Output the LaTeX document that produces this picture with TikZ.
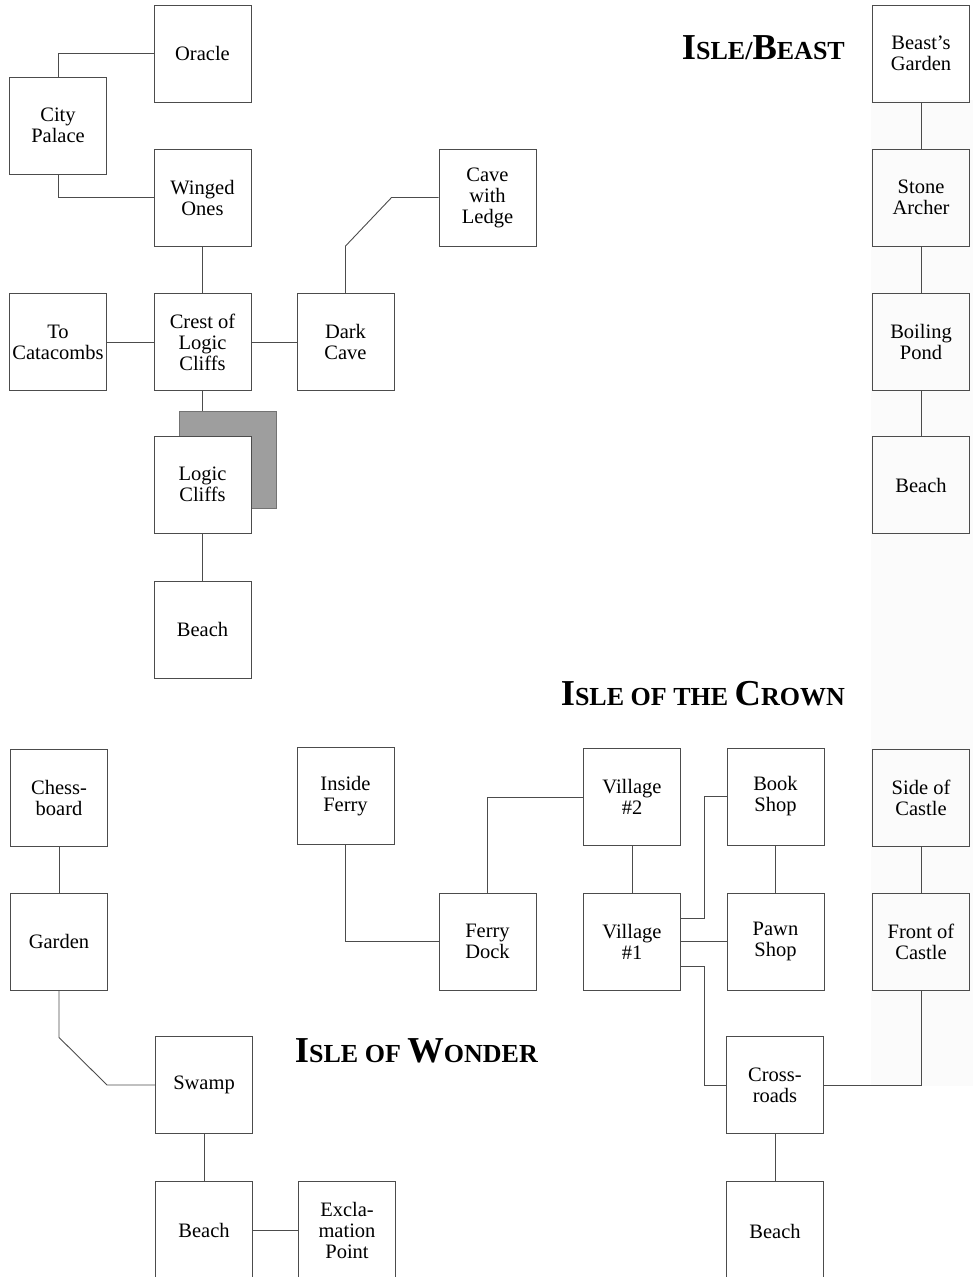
\documentclass[tikz,border=0pt]{standalone}
\usepackage{fontspec}
\setmainfont{Liberation Serif}
\newcommand{\titlebig}[1]{{\fontsize{36.5}{40}\selectfont #1}}
\begin{document}
\begin{tikzpicture}[
    x=1pt, y=-1pt,
    room/.style={rectangle, draw=black!70, line width=0.9pt, minimum width=97pt, minimum height=97pt, inner sep=0pt, align=center, font=\fontsize{20.5}{21}\selectfont},
    isle/.style={anchor=base east, inner sep=0pt, font=\bfseries\fontsize{26}{30}\selectfont},
    link/.style={draw=black!70, line width=0.9pt}
]
\useasboundingbox (0,0) rectangle (973,1277);

% faint strip on the right
\fill[black!1.5] (871,100) rectangle (973,1086);

% Isle of the Beast
\node[isle] (titlebeast) at (845,59) {\titlebig{I}SLE/\titlebig{B}EAST};
\node[room] (beastgarden) at (921,53.5) {Beast's\\Garden};
\node[room] (archer) at (921,197.5) {Stone\\Archer};
\node[room] (pond) at (921,342) {Boiling\\Pond};
\node[room] (beastbeach) at (921,485) {Beach};

% Isle of the Sacred Mountain
\node[room] (oracle) at (202.5,53.5) {Oracle};
\node[room] (palace) at (58,125.5) {City\\Palace};
\node[room] (winged) at (202.5,197.5) {Winged\\Ones};
\node[room] (catacombs) at (58,342) {To\\Catacombs};
\node[room] (crest) at (202.5,342) {Crest of\\Logic\\Cliffs};
\node[room] (darkcave) at (345.5,342) {Dark\\Cave};
\node[room] (ledge) at (487.5,197.5) {Cave\\with\\Ledge};
\node[room] (mountbeach) at (202.5,629.5) {Beach};

% Isle of the Crown
\node[isle] (titlecrown) at (845,705) {\titlebig{I}SLE OF THE \titlebig{C}ROWN};
\node[room] (inferry) at (345.5,796) {Inside\\Ferry};
\node[room] (ferrydock) at (487.5,941.5) {Ferry\\Dock};
\node[room] (village2) at (632,797) {Village\\\#2};
\node[room] (village1) at (632,941.5) {Village\\\#1};
\node[room] (bookshop) at (775.5,796.5) {Book\\Shop};
\node[room] (pawnshop) at (775.5,941.5) {Pawn\\Shop};
\node[room] (crossroads) at (775,1085) {Cross-\\roads};
\node[room, minimum height=99pt] (crownbeach) at (775,1231) {Beach};
\node[room] (sidecastle) at (921,797.5) {Side of\\Castle};
\node[room] (frontcastle) at (921,941.5) {Front of\\Castle};

% Isle of Wonder
\node[isle] (titlewonder) at (538,1062) {\titlebig{I}SLE OF \titlebig{W}ONDER};
\node[room] (chess) at (59,797.5) {Chess-\\board};
\node[room] (garden) at (59,941.5) {Garden};
\node[room] (swamp) at (204,1085) {Swamp};
\node[room, minimum height=99pt] (wonderbeach) at (204,1230.5) {Beach};
\node[room, minimum height=99pt] (exclaim) at (347,1230.5) {Excla-\\mation\\Point};

% Connectors
\draw[link] (palace.north) |- (oracle.west);
\draw[link] (palace.south) |- (winged.west);
\draw[link] (winged) -- (crest);
\draw[link] (catacombs) -- (crest);
\draw[link] (crest) -- (darkcave);
\draw[link] (darkcave.north) -- ++(0,-47) -- ([xshift=-47pt]ledge.west) -- (ledge.west);
\draw[link] (crest.south) -- ++(0,22);

% shaded card behind the cliffs
\node[room, fill=black!38, draw=black!55] (cliffshade) at (227.5,460) {};
\node[room, fill=white] (logic) at (202.5,484.5) {Logic\\Cliffs};
\draw[link] (logic) -- (mountbeach);

\draw[link] (beastgarden) -- (archer);
\draw[link] (archer) -- (pond);
\draw[link] (pond) -- (beastbeach);

\draw[link] (inferry.south) |- (ferrydock.west);
\draw[link] (ferrydock.north) |- (village2.west);
\draw[link] (village2) -- (village1);
\draw[link] ([yshift=23.5pt]village1.east) -- ++(23,0) |- (bookshop.west);
\draw[link] (village1) -- (pawnshop);
\draw[link] ([yshift=-24.5pt]village1.east) -- ++(23,0) |- (crossroads.west);
\draw[link] (bookshop) -- (pawnshop);
\draw[link] (sidecastle) -- (frontcastle);
\draw[link] (crossroads.east) -| (frontcastle.south);
\draw[link] (crossroads) -- (crownbeach);

\draw[link] (chess) -- (garden);
\draw[link] (garden.south) -- ++(0,47) -- ([xshift=-48pt]swamp.west) -- (swamp.west);
\draw[link] (swamp) -- (wonderbeach);
\draw[link] (wonderbeach) -- (exclaim);

\end{tikzpicture}
\end{document}
